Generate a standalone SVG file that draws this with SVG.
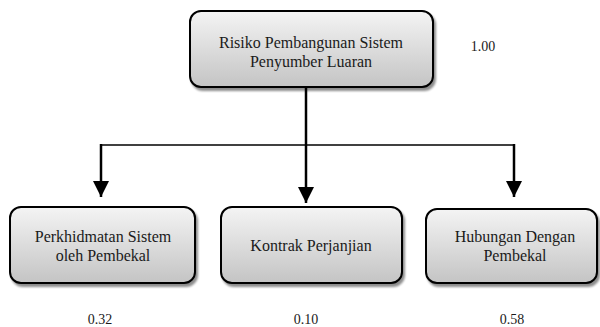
<svg xmlns="http://www.w3.org/2000/svg" width="600" height="327" viewBox="0 0 600 327">
<defs>
<linearGradient id="g" x1="0" y1="0" x2="0" y2="1">
<stop offset="0" stop-color="#f4f4f4"/>
<stop offset="1" stop-color="#c4c4c4"/>
</linearGradient>
<filter id="sh" x="-10%" y="-10%" width="130%" height="140%">
<feGaussianBlur in="SourceAlpha" stdDeviation="1"/>
<feOffset dx="2" dy="3" result="b"/>
<feComponentTransfer><feFuncA type="linear" slope="0.45"/></feComponentTransfer>
<feMerge><feMergeNode/><feMergeNode in="SourceGraphic"/></feMerge>
</filter>
<marker id="ah" viewBox="0 0 16 16" refX="16" refY="8" markerWidth="16" markerHeight="16" markerUnits="userSpaceOnUse" orient="auto">
<path d="M0,0 L16,8 L0,16 Z" fill="#000"/>
</marker>
</defs>
<style>
.box{fill:url(#g);stroke:#000;stroke-width:2;filter:url(#sh)}
text{font-family:'Liberation Serif',Tinos,'Times New Roman','DejaVu Serif',serif;fill:#1a1a1a;text-anchor:middle}
.t{font-size:16px}
.v{font-size:14px}
.thin{stroke:#000;stroke-width:1.5;fill:none}
.arr{stroke:#000;stroke-width:2.5;fill:none;marker-end:url(#ah)}
</style>
<g id="connectors">
<line class="thin" x1="101" y1="145" x2="514" y2="145"/>
<line class="arr" x1="101" y1="144" x2="101" y2="197"/>
<line class="arr" x1="306" y1="88" x2="306" y2="203"/>
<line class="arr" x1="514" y1="144" x2="514" y2="197"/>
</g>
<g id="root">
<rect class="box" x="190" y="11" width="243" height="76" rx="11"/>
<text class="t" x="311" y="48">Risiko Pembangunan Sistem</text>
<text class="t" x="311" y="67">Penyumber Luaran</text>
<text class="v" x="483" y="51">1.00</text>
</g>
<g id="n1">
<rect class="box" x="10" y="207" width="185" height="76" rx="11"/>
<text class="t" x="103" y="242">Perkhidmatan Sistem</text>
<text class="t" x="103" y="261">oleh Pembekal</text>
<text class="v" x="100" y="324">0.32</text>
</g>
<g id="n2">
<rect class="box" x="221" y="207" width="181" height="76" rx="11"/>
<text class="t" x="311" y="251">Kontrak Perjanjian</text>
<text class="v" x="306" y="324">0.10</text>
</g>
<g id="n3">
<rect class="box" x="426" y="209" width="171" height="74" rx="11"/>
<text class="t" x="515" y="242">Hubungan Dengan</text>
<text class="t" x="515" y="261">Pembekal</text>
<text class="v" x="512" y="324">0.58</text>
</g>
</svg>
